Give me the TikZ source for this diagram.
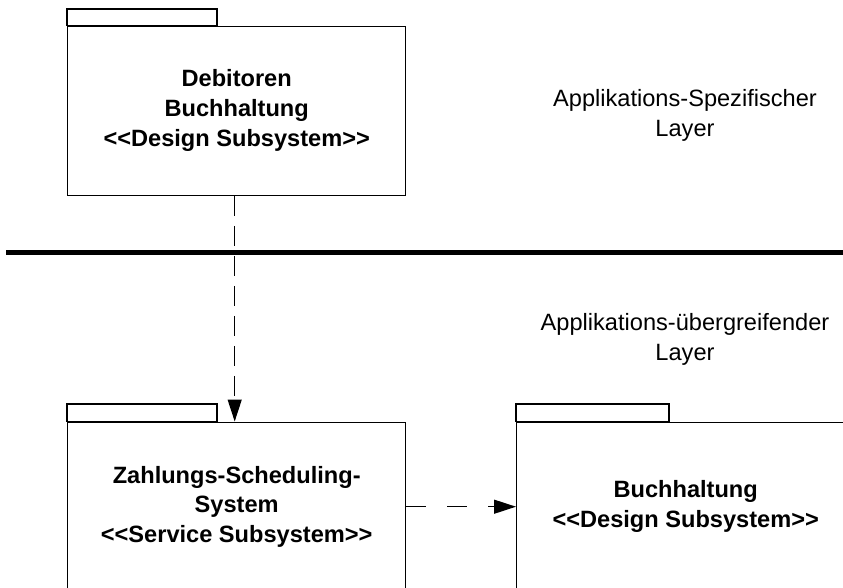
\documentclass[tikz,border=0pt]{standalone}
\usepackage{fontspec}
\setmainfont{Liberation Sans}
\usetikzlibrary{arrows.meta}
\begin{document}
\begin{tikzpicture}[x=1pt,y=-1pt,
  pkg/.style={draw=black,line width=1.4pt,rectangle,minimum width=338pt,minimum height=169pt,
    inner sep=0pt,align=center,font=\fontsize{23.6}{29.8}\selectfont\bfseries,anchor=north west},
  pkgtab/.style={draw=black,line width=1.4pt},
  layerlbl/.style={align=center,font=\fontsize{23.6}{29.8}\selectfont},
  dep/.style={line width=1.3pt,-{Triangle[length=22pt,width=14pt]}}
]
\useasboundingbox (0,0) rectangle (843,587);
\clip (0,0) rectangle (843,587);

% layer separator
\draw[line width=5pt] (6,252) -- (843,252);

% packages with their tabs
\draw[pkgtab] (67,9) rectangle (217,25.5);
\node[pkg] (deb) at (67,25.5) {Debitoren\\Buchhaltung\\<{}<Design Subsystem>{}>};

\draw[pkgtab] (67,404) rectangle (217,421.5);
\node[pkg] (zss) at (67,421.5) {Zahlungs-Scheduling-\\System\\<{}<Service Subsystem>{}>};

\draw[pkgtab] (516,404) rectangle (669,421.5);
\node[pkg] (buch) at (516,421.5) {Buchhaltung\\<{}<Design Subsystem>{}>};

% layer labels
\node[layerlbl] (lspec) at (685,115) {Applikations-Spezifischer\\Layer};
\node[layerlbl] (lueber) at (685,339) {Applikations-übergreifender\\Layer};

% dependencies
\draw[dep,dash pattern=on 20pt off 10pt] ([xshift=-2pt]deb.south) -- ([xshift=-2pt]deb.south |- zss.north);
\draw[dep,dash pattern=on 20pt off 21pt] (zss.east) -- (buch.west);
\end{tikzpicture}
\end{document}
